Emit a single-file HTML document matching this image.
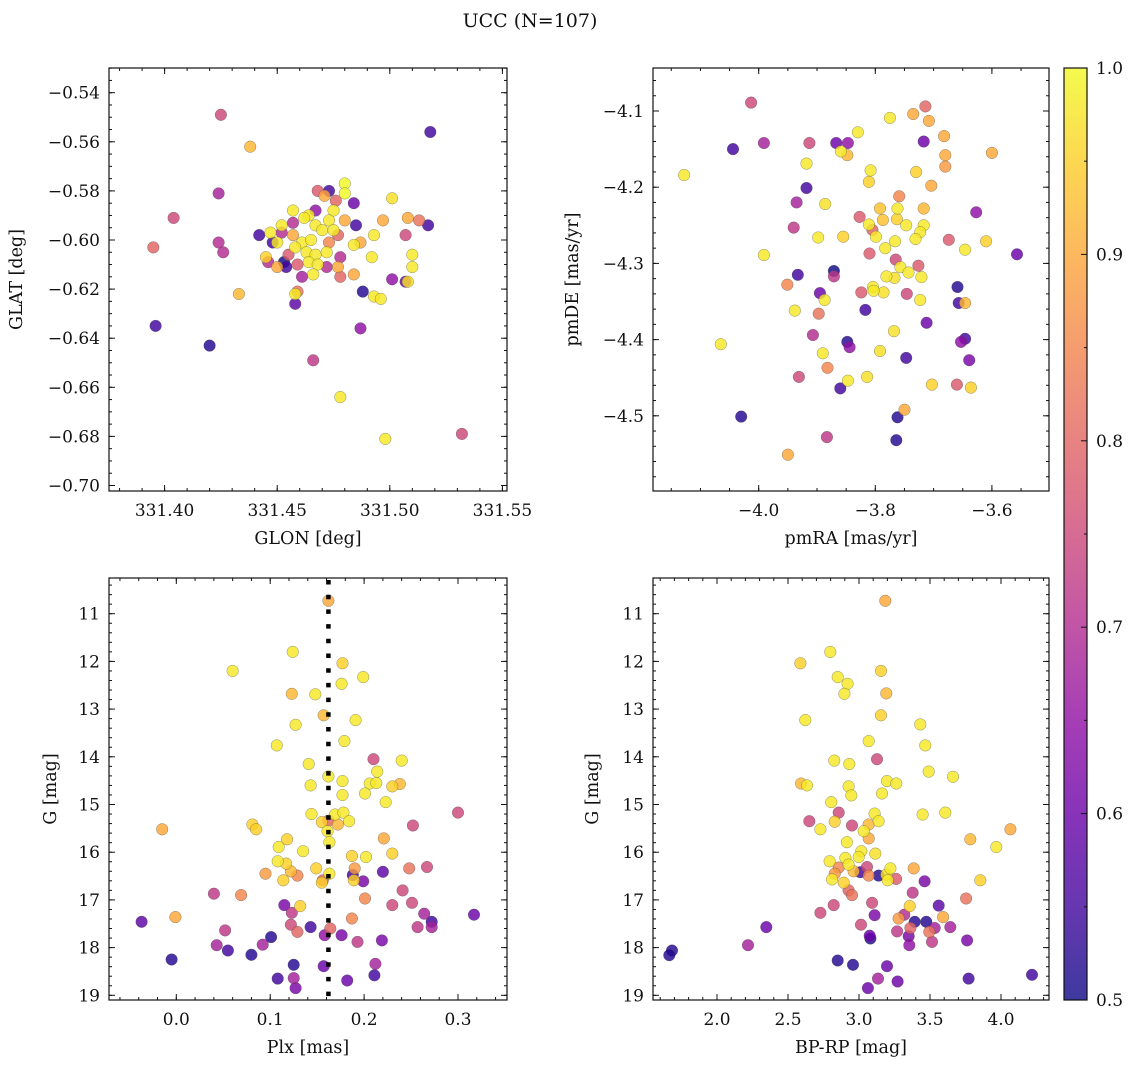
<!DOCTYPE html>
<html><head><meta charset="utf-8"><title>UCC (N=107)</title>
<style>
html,body{margin:0;padding:0;background:#fff;}
svg{display:block;font-family:"DejaVu Serif","Liberation Serif",serif;}
</style></head>
<body>
<svg id="fig" width="1136" height="1067" viewBox="0 0 1136 1067" xmlns="http://www.w3.org/2000/svg">
<rect width="1136" height="1067" fill="#fff"/>
<text x="530" y="27" text-anchor="middle" font-size="19" fill="#111">UCC (N=107)</text>
</svg>
<script>
// ---- Panel 1: GLON / GLAT ----
const glon = [331.480,331.480,331.468,331.473,331.471,331.476,331.484,331.475,331.467,331.501,331.457,331.464,331.462,331.473,331.480,331.485,331.497,331.508,331.513,331.517,331.457,331.452,331.467,331.470,331.475,331.442,331.447,331.452,331.457,331.477,331.493,331.507,331.448,331.450,331.461,331.465,331.473,331.484,331.487,331.458,331.463,331.467,331.472,331.455,331.478,331.492,331.510,331.445,331.446,331.453,331.459,331.464,331.468,331.477,331.450,331.472,331.510,331.454,331.466,331.461,331.478,331.484,331.501,331.507,331.508,331.459,331.458,331.488,331.493,331.496,331.458,331.433,331.425,331.438,331.424,331.404,331.395,331.424,331.426,331.396,331.420,331.466,331.478,331.498,331.532,331.518,331.487];
const glat = [-0.577,-0.581,-0.580,-0.580,-0.582,-0.584,-0.585,-0.588,-0.588,-0.583,-0.588,-0.590,-0.591,-0.592,-0.592,-0.594,-0.592,-0.591,-0.592,-0.594,-0.593,-0.594,-0.594,-0.596,-0.596,-0.598,-0.597,-0.597,-0.598,-0.598,-0.598,-0.598,-0.601,-0.601,-0.601,-0.600,-0.601,-0.602,-0.601,-0.603,-0.605,-0.606,-0.605,-0.606,-0.607,-0.607,-0.606,-0.607,-0.609,-0.609,-0.610,-0.609,-0.610,-0.611,-0.611,-0.611,-0.611,-0.611,-0.614,-0.615,-0.615,-0.614,-0.616,-0.617,-0.617,-0.621,-0.622,-0.621,-0.623,-0.624,-0.626,-0.622,-0.549,-0.562,-0.581,-0.591,-0.603,-0.601,-0.605,-0.635,-0.643,-0.649,-0.664,-0.681,-0.679,-0.556,-0.636];
const prob1 = [1.0,1.0,0.78,0.55,0.9,0.8,0.6,0.98,0.65,0.97,0.98,0.98,0.98,0.98,0.9,0.55,0.9,0.9,0.82,0.55,0.7,0.98,0.98,0.98,0.98,0.55,0.98,0.7,0.9,0.8,0.98,0.75,0.55,0.98,0.98,0.98,0.85,0.98,0.9,0.98,0.98,0.98,0.98,0.78,0.7,0.98,0.98,0.95,0.7,0.5,0.78,0.98,0.98,0.9,0.9,0.7,0.98,0.55,0.98,0.68,0.8,0.9,0.65,0.6,0.97,0.82,0.98,0.52,0.98,0.98,0.58,0.92,0.75,0.92,0.68,0.75,0.8,0.7,0.7,0.55,0.52,0.72,0.98,0.98,0.75,0.55,0.65];

// ---- Panel 2: pmRA / pmDE ----
const pmra = [-4.013,-3.714,-3.775,-3.735,-3.708,-3.830,-3.682,-4.044,-3.991,-3.913,-3.867,-3.847,-3.717,-3.859,-3.848,-3.600,-3.680,-3.680,-4.128,-3.918,-3.808,-3.811,-3.730,-3.704,-3.918,-3.935,-3.886,-3.759,-3.792,-3.762,-3.717,-3.627,-3.827,-3.787,-3.763,-3.811,-3.747,-3.717,-3.940,-3.805,-3.799,-3.723,-3.731,-3.898,-3.855,-3.766,-3.674,-3.610,-3.783,-3.646,-3.810,-3.991,-3.557,-3.765,-3.757,-3.726,-3.743,-3.933,-3.871,-3.871,-3.781,-3.767,-3.721,-3.951,-3.804,-3.803,-3.786,-3.824,-3.746,-3.895,-3.887,-3.659,-3.657,-3.646,-3.723,-3.938,-3.897,-3.817,-3.712,-3.768,-3.907,-4.065,-3.848,-3.844,-3.792,-3.646,-3.653,-3.890,-3.747,-3.639,-3.882,-3.931,-3.814,-3.847,-3.860,-3.703,-3.660,-3.636,-4.030,-3.762,-3.750,-3.883,-3.764,-3.950];
const pmde = [-4.089,-4.094,-4.109,-4.104,-4.113,-4.128,-4.133,-4.150,-4.142,-4.142,-4.142,-4.142,-4.140,-4.153,-4.158,-4.155,-4.158,-4.173,-4.184,-4.169,-4.178,-4.193,-4.180,-4.198,-4.201,-4.220,-4.222,-4.212,-4.228,-4.228,-4.228,-4.233,-4.239,-4.243,-4.242,-4.249,-4.250,-4.250,-4.253,-4.256,-4.265,-4.259,-4.268,-4.266,-4.265,-4.271,-4.269,-4.271,-4.280,-4.282,-4.287,-4.289,-4.288,-4.295,-4.305,-4.303,-4.312,-4.315,-4.310,-4.317,-4.317,-4.319,-4.318,-4.328,-4.331,-4.336,-4.338,-4.338,-4.340,-4.339,-4.348,-4.331,-4.352,-4.352,-4.348,-4.362,-4.366,-4.361,-4.378,-4.389,-4.394,-4.406,-4.403,-4.410,-4.415,-4.399,-4.403,-4.418,-4.424,-4.427,-4.437,-4.449,-4.449,-4.454,-4.464,-4.459,-4.459,-4.463,-4.501,-4.502,-4.492,-4.528,-4.532,-4.551];
const prob2 = [0.75,0.8,0.98,0.9,0.9,0.98,0.9,0.55,0.68,0.75,0.6,0.65,0.6,0.98,0.92,0.9,0.9,0.88,0.98,0.98,0.98,0.95,0.95,0.9,0.55,0.68,0.97,0.85,0.93,0.98,0.92,0.65,0.78,0.93,0.95,0.98,0.98,0.98,0.72,0.8,0.98,0.98,0.98,0.98,0.95,0.98,0.78,0.95,0.98,0.98,0.78,0.98,0.6,0.75,0.98,0.78,0.98,0.55,0.5,0.72,0.98,0.97,0.98,0.85,0.98,0.98,0.97,0.78,0.75,0.6,0.98,0.52,0.55,0.92,0.98,0.98,0.82,0.55,0.6,0.97,0.7,0.98,0.52,0.65,0.97,0.55,0.65,0.98,0.55,0.62,0.85,0.75,0.97,0.98,0.55,0.95,0.78,0.95,0.52,0.52,0.9,0.72,0.52,0.9];

// ---- Panel 3: Plx / G ----
const plx = [0.162,0.124,0.060,0.177,0.199,0.176,0.123,0.148,0.157,0.127,0.191,0.179,0.107,0.210,0.240,0.141,0.214,0.162,0.177,0.206,0.213,0.230,0.238,0.143,0.201,0.177,0.223,0.300,0.144,0.169,0.178,0.155,0.162,0.172,0.184,0.252,0.081,0.085,-0.015,0.161,0.163,0.118,0.109,0.135,0.221,0.187,0.202,0.230,0.108,0.117,0.122,0.149,0.163,0.190,0.129,0.095,0.114,0.156,0.155,0.188,0.189,0.199,0.220,0.248,0.267,0.241,0.040,0.069,0.201,0.251,0.230,0.115,0.132,0.123,0.264,0.317,-0.001,-0.037,0.187,0.272,0.272,0.257,0.122,0.129,0.143,0.164,0.158,0.176,0.052,0.101,0.092,0.043,0.055,0.080,0.193,0.219,-0.005,0.125,0.157,0.212,0.211,0.108,0.125,0.127,0.182];
const gmag3 = [10.73,11.80,12.20,12.04,12.33,12.47,12.68,12.69,13.13,13.33,13.23,13.67,13.76,14.05,14.08,14.15,14.31,14.41,14.51,14.56,14.55,14.62,14.57,14.60,14.77,14.80,14.95,15.17,15.20,15.21,15.17,15.37,15.34,15.42,15.35,15.44,15.42,15.52,15.52,15.56,15.79,15.73,15.89,15.98,15.71,16.08,16.10,16.03,16.19,16.24,16.40,16.34,16.45,16.34,16.49,16.45,16.59,16.59,16.64,16.48,16.59,16.61,16.41,16.34,16.31,16.80,16.87,16.90,16.97,17.06,17.11,17.11,17.13,17.27,17.29,17.31,17.36,17.46,17.39,17.46,17.57,17.57,17.52,17.67,17.57,17.60,17.74,17.74,17.64,17.78,17.94,17.95,18.06,18.15,17.88,17.85,18.25,18.36,18.39,18.34,18.58,18.65,18.64,18.85,18.69];
const prob3 = [0.9,0.98,0.98,0.95,0.98,0.98,0.92,0.98,0.92,0.98,0.98,0.98,0.98,0.75,0.98,0.98,0.98,0.98,0.98,0.98,0.98,0.95,0.92,0.98,0.98,0.98,0.98,0.75,0.98,0.98,0.98,0.95,0.8,0.92,0.98,0.75,0.95,0.95,0.9,0.98,0.98,0.95,0.98,0.98,0.9,0.95,0.98,0.95,0.98,0.95,0.92,0.95,0.98,0.88,0.85,0.88,0.95,0.8,0.95,0.55,0.95,0.62,0.58,0.82,0.75,0.75,0.72,0.85,0.85,0.75,0.75,0.62,0.95,0.72,0.68,0.6,0.9,0.58,0.85,0.55,0.68,0.72,0.75,0.8,0.55,0.8,0.65,0.62,0.72,0.52,0.68,0.68,0.55,0.52,0.72,0.62,0.52,0.52,0.6,0.68,0.55,0.55,0.68,0.62,0.6];
const plxLine = 0.162;

// ---- Panel 4: BP-RP / G ----
const bprp = [3.185,2.798,2.587,3.155,2.850,2.920,2.897,3.192,3.155,2.622,3.432,3.467,3.068,3.127,2.826,2.932,3.491,3.662,2.592,2.634,2.927,2.946,3.197,3.263,3.162,2.805,3.448,3.608,2.857,2.650,2.829,3.110,3.138,3.068,2.951,2.728,3.033,4.066,3.784,3.967,3.068,2.915,3.016,3.115,2.998,2.793,2.904,2.927,3.056,2.857,3.385,2.962,2.829,3.009,3.068,3.138,3.221,3.192,3.261,3.202,2.810,2.892,3.462,3.854,2.927,2.951,3.378,3.754,3.092,2.822,2.728,3.357,3.561,3.110,3.319,3.279,3.592,3.392,3.474,3.014,3.268,3.362,3.533,3.643,3.495,2.347,3.075,3.080,3.350,3.514,3.761,3.354,2.218,1.683,1.664,2.850,2.958,3.197,4.218,3.772,3.134,3.272,3.063];
const gmag4 = [10.73,11.80,12.04,12.20,12.33,12.47,12.68,12.67,13.13,13.23,13.32,13.76,13.67,14.05,14.08,14.15,14.31,14.42,14.56,14.60,14.62,14.81,14.51,14.56,14.77,14.95,15.21,15.17,15.17,15.35,15.36,15.19,15.35,15.42,15.44,15.52,15.56,15.52,15.73,15.89,15.71,15.79,15.98,16.03,16.10,16.19,16.12,16.26,16.31,16.32,16.34,16.40,16.45,16.42,16.49,16.49,16.34,16.47,16.56,16.59,16.57,16.64,16.61,16.59,16.80,16.90,16.85,16.97,17.06,17.11,17.27,17.13,17.12,17.32,17.31,17.39,17.36,17.46,17.46,17.52,17.66,17.59,17.59,17.57,17.67,17.57,17.75,17.81,17.76,17.88,17.85,17.95,17.95,18.06,18.16,18.27,18.36,18.39,18.57,18.65,18.65,18.71,18.85];
const prob4 = [0.9,0.98,0.95,0.95,0.98,0.98,0.98,0.92,0.95,0.98,0.98,0.98,0.98,0.75,0.98,0.98,0.98,0.98,0.92,0.98,0.98,0.98,0.98,0.98,0.98,0.98,0.98,0.98,0.75,0.75,0.95,0.98,0.98,0.92,0.75,0.98,0.98,0.9,0.92,0.98,0.9,0.98,0.98,0.97,0.98,0.98,0.98,0.98,0.75,0.85,0.9,0.92,0.88,0.55,0.85,0.52,0.98,0.97,0.78,0.98,0.98,0.95,0.62,0.95,0.8,0.82,0.72,0.82,0.75,0.75,0.75,0.95,0.58,0.62,0.7,0.88,0.9,0.52,0.52,0.75,0.72,0.8,0.68,0.68,0.82,0.6,0.6,0.52,0.62,0.72,0.62,0.65,0.68,0.52,0.52,0.52,0.52,0.6,0.55,0.55,0.68,0.6,0.6];

// ---- Colorbar ----
const cbTicks = [0.5,0.6,0.7,0.8,0.9,1.0];
const cbMin = 0.5, cbMax = 1.0;

const NS = "http://www.w3.org/2000/svg";
const svg = document.getElementById("fig");
const plasma = [[13,8,135],[65,4,157],[106,0,168],[143,13,164],[177,42,144],[204,71,120],[225,100,98],[242,132,75],[252,166,54],[252,206,37],[240,249,33]];
function cmap(p){
  let t = (p - cbMin) / (cbMax - cbMin); t = Math.max(0, Math.min(1, t));
  const f = t * 10, i = Math.min(9, Math.floor(f)), r = f - i;
  const a = plasma[i], b = plasma[i+1];
  return "rgb(" + [0,1,2].map(k => Math.round(a[k] + (b[k]-a[k])*r)).join(",") + ")";
}
function mk(tag, attrs, parent){
  const e = document.createElementNS(NS, tag);
  for (const k in attrs) e.setAttribute(k, attrs[k]);
  (parent || svg).appendChild(e);
  return e;
}
function fmt(v, d){ const s = Math.abs(v).toFixed(d); return (v < -1e-9 ? "\u2212" : "") + s; }
const TFS = 17, LFS = 17.5;

function panel(cfg){
  const g = mk("g", {});
  
  
  const sx = v => cfg.x0 + (v - cfg.xmin) / (cfg.xmax - cfg.xmin) * (cfg.x1 - cfg.x0);
  const sy = v => cfg.y0 + (v - cfg.ytop) / (cfg.ybot - cfg.ytop) * (cfg.y1 - cfg.y0);
  const idx = cfg.xs.map((_, i) => i).sort((a, b) => cfg.ps[a] - cfg.ps[b]);
  const pg = mk("g", {}, g);
  
  
  idx.forEach(i => {
    const c = mk("circle", {cx: sx(cfg.xs[i]).toFixed(1), cy: sy(cfg.ys[i]).toFixed(1), r: 5.8, fill: cmap(cfg.ps[i]), "fill-opacity": 0.82, stroke: "rgba(60,60,60,0.55)", "stroke-width": 0.5}, pg);
    
    
  });
  if (cfg.extra) cfg.extra(g, sx, sy);
  const fr = mk("rect", {x: cfg.x0, y: cfg.y0, width: cfg.x1 - cfg.x0, height: cfg.y1 - cfg.y0, fill: "none", stroke: "#111", "stroke-width": 1.2}, g);
  
  
  const tk = mk("g", {stroke: "#111", "stroke-width": 1}, g);
  
  
  function ticksX(step, len){
    const a = Math.ceil(Math.min(cfg.xmin, cfg.xmax) / step - 1e-6), b = Math.floor(Math.max(cfg.xmin, cfg.xmax) / step + 1e-6);
    for (let k = a; k <= b; k++){ const x = sx(k * step);
      mk("line", {x1: x, x2: x, y1: cfg.y1, y2: cfg.y1 - len}, tk);
      mk("line", {x1: x, x2: x, y1: cfg.y0, y2: cfg.y0 + len}, tk); }
  }
  function ticksY(step, len){
    const lo = Math.min(cfg.ytop, cfg.ybot), hi = Math.max(cfg.ytop, cfg.ybot);
    const a = Math.ceil(lo / step - 1e-6), b = Math.floor(hi / step + 1e-6);
    for (let k = a; k <= b; k++){ const y = sy(k * step);
      mk("line", {x1: cfg.x0, x2: cfg.x0 + len, y1: y, y2: y}, tk);
      mk("line", {x1: cfg.x1, x2: cfg.x1 - len, y1: y, y2: y}, tk); }
  }
  ticksX(cfg.xminor, 3); ticksX(cfg.xmajor, 6);
  ticksY(cfg.yminor, 3); ticksY(cfg.ymajor, 6);
  cfg.xticks.forEach(v => {
    const t = mk("text", {x: sx(v), y: cfg.y1 + 25, "text-anchor": "middle", "font-size": TFS, fill: "#111"}, g);
    t.textContent = fmt(v, cfg.xdec);
    
    
  });
  cfg.yticks.forEach(v => {
    const t = mk("text", {x: cfg.x0 - 9, y: sy(v) + 6, "text-anchor": "end", "font-size": TFS, fill: "#111"}, g);
    t.textContent = fmt(v, cfg.ydec);
    
    
  });
  const xl = mk("text", {x: (cfg.x0 + cfg.x1) / 2, y: cfg.y1 + 53, "text-anchor": "middle", "font-size": LFS, fill: "#111"}, g);
  xl.textContent = cfg.xlabel;
  
  
  const ym = (cfg.y0 + cfg.y1) / 2;
  const yl = mk("text", {x: cfg.ylx, y: ym, "text-anchor": "middle", "font-size": LFS, fill: "#111", transform: "rotate(-90 " + cfg.ylx + " " + ym + ")"}, g);
  yl.textContent = cfg.ylabel;
  
  
}

panel({name: "panel-glon-glat", x0: 109, x1: 507, y0: 68, y1: 491,
  xmin: 331.40 - 55.6/2252, xmax: 331.40 + 342.4/2252, ytop: -0.54 + 24.7/2455, ybot: -0.54 - 398.3/2455,
  xs: glon, ys: glat, ps: prob1, xmajor: 0.05, xminor: 0.01, ymajor: 0.02, yminor: 0.005,
  xticks: [331.40,331.45,331.50,331.55], xdec: 2, yticks: [-0.54,-0.56,-0.58,-0.60,-0.62,-0.64,-0.66,-0.68,-0.70], ydec: 2,
  xlabel: "GLON [deg]", ylabel: "GLAT [deg]", ylx: 22});

panel({name: "panel-pmra-pmde", x0: 653, x1: 1049, y0: 68, y1: 491,
  xmin: -4 - 105.7/583, xmax: -4 + 290.3/583, ytop: -4.1 + 43/762, ybot: -4.1 - 380/762,
  xs: pmra, ys: pmde, ps: prob2, xmajor: 0.2, xminor: 0.05, ymajor: 0.1, yminor: 0.02,
  xticks: [-4.0,-3.8,-3.6], xdec: 1, yticks: [-4.1,-4.2,-4.3,-4.4,-4.5], ydec: 1,
  xlabel: "pmRA [mas/yr]", ylabel: "pmDE [mas/yr]", ylx: 578});

panel({name: "panel-plx-g", x0: 109, x1: 507, y0: 578, y1: 1000,
  xmin: -67.3/939, xmax: 330.7/939, ytop: 11 - 35.7/47.7, ybot: 11 + 386.3/47.7,
  xs: plx, ys: gmag3, ps: prob3, xmajor: 0.1, xminor: 0.02, ymajor: 1, yminor: 0.2,
  xticks: [0.0,0.1,0.2,0.3], xdec: 1, yticks: [11,12,13,14,15,16,17,18,19], ydec: 0,
  xlabel: "Plx [mas]", ylabel: "G [mag]", ylx: 56,
  extra: (g, sx, sy) => {
    const x = sx(plxLine);
    const l = mk("line", {x1: x, x2: x, y1: 580, y2: 1000, stroke: "#000", "stroke-width": 4.5, "stroke-dasharray": "4.5 10.2"}, g);
    
    
  }});

panel({name: "panel-bprp-g", x0: 653, x1: 1049, y0: 578, y1: 1000,
  xmin: 2 - 64/142, xmax: 2 + 332/142, ytop: 11 - 35.7/47.7, ybot: 11 + 386.3/47.7,
  xs: bprp, ys: gmag4, ps: prob4, xmajor: 0.5, xminor: 0.1, ymajor: 1, yminor: 0.2,
  xticks: [2.0,2.5,3.0,3.5,4.0], xdec: 1, yticks: [11,12,13,14,15,16,17,18,19], ydec: 0,
  xlabel: "BP-RP [mag]", ylabel: "G [mag]", ylx: 598});

(function(){
  const cx0 = 1064, cx1 = 1087, cy0 = 68, cy1 = 1000;
  const cs = v => cy1 - (v - cbMin) / (cbMax - cbMin) * (cy1 - cy0);
  const cg = mk("g", {});
  
  
  const defs = mk("defs", {}, cg);
  const lg = mk("linearGradient", {id: "plasmaGrad", x1: 0, y1: 1, x2: 0, y2: 0}, defs);
  for (let i = 0; i <= 20; i++){
    const v = cbMin + (cbMax - cbMin) * i / 20;
    mk("stop", {offset: (i / 20), "stop-color": cmap(v), "stop-opacity": 0.8}, lg);
  }
  const bar = mk("rect", {x: cx0, y: cy0, width: cx1 - cx0, height: cy1 - cy0, fill: "url(#plasmaGrad)", stroke: "#111", "stroke-width": 1.2}, cg);
  
  
  for (let k = 10; k <= 20; k++){
    const v = k * 0.05, y = cs(v), major = (k % 2 === 0);
    mk("line", {x1: cx1, x2: cx1 - (major ? 6 : 3), y1: y, y2: y, stroke: "#111", "stroke-width": 1}, cg);
  }
  cbTicks.forEach(v => {
    const t = mk("text", {x: cx1 + 9, y: cs(v) + 6, "font-size": TFS, fill: "#111"}, cg);
    t.textContent = v.toFixed(1);
    
    
  });
})();
</script>
</body></html>
